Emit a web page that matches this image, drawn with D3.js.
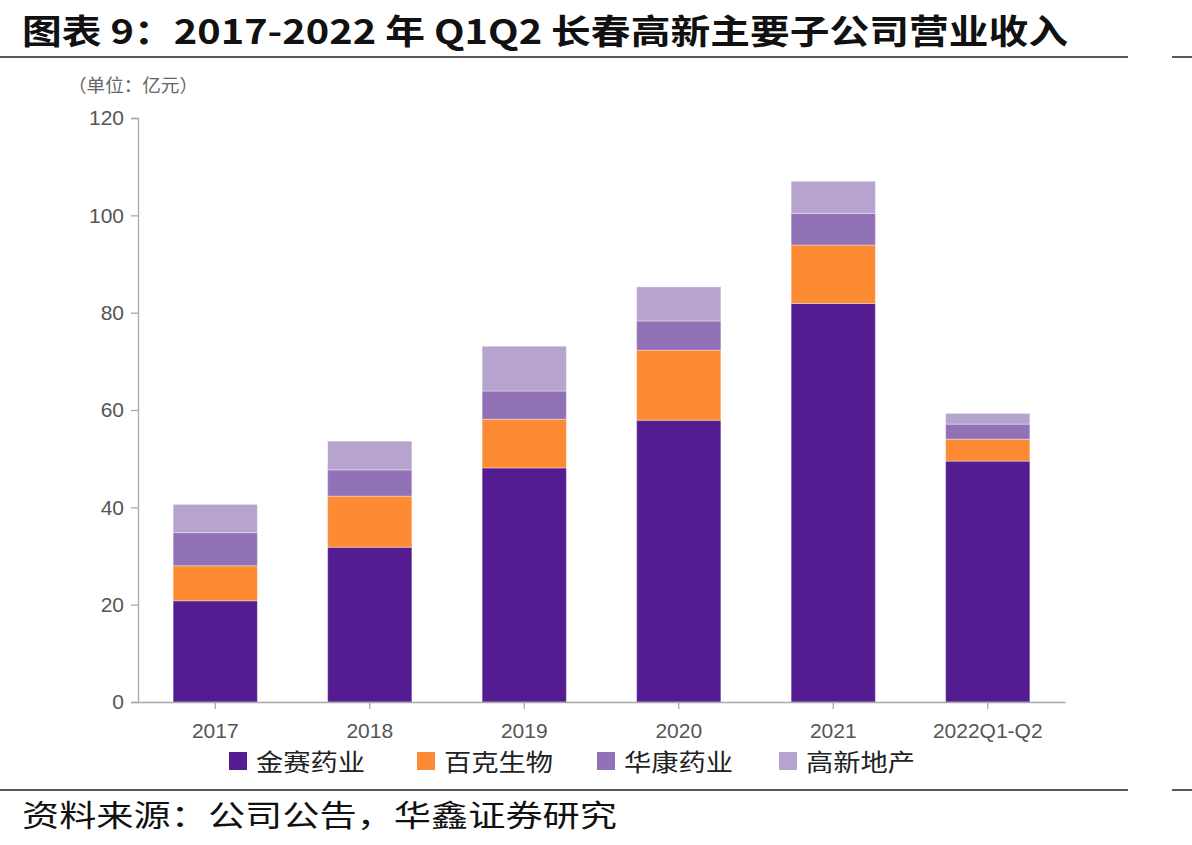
<!DOCTYPE html>
<html>
<head>
<meta charset="utf-8">
<script src="https://cdn.jsdelivr.net/npm/d3@7"></script>
<style>
  body { margin: 0; background: #fff; }
  svg { display: block; }
</style>
</head>
<body>
<svg width="1192" height="845"></svg>
<script>
// categories and series (unit: 亿元)
const years = ['2017', '2018', '2019', '2020', '2021', '2022Q1-Q2'];
const jinsai = [20.8, 31.8, 48.1, 57.9, 81.9, 49.5];   // 金赛药业
const baike = [7.2, 10.5, 10.0, 14.4, 12.0, 4.5];      // 百克生物
const huakang = [6.8, 5.4, 5.8, 6.0, 6.5, 3.1];        // 华康药业
const gaoxin = [5.8, 5.9, 9.2, 7.0, 6.6, 2.2];         // 高新地产
const seriesNames = ['金赛药业', '百克生物', '华康药业', '高新地产'];
const yTicks = [0, 20, 40, 60, 80, 100, 120];

const colors = ['#531c90', '#fd8b34', '#9272b6', '#b6a4cf'];

const svg = d3.select('svg');
const cjk = '"Noto Sans CJK SC", sans-serif';
const latin = '"Liberation Sans", Arial, sans-serif';

// rows for the stack
const rows = years.map((y, i) => ({
    year: y,
    '金赛药业': jinsai[i],
    '百克生物': baike[i],
    '华康药业': huakang[i],
    '高新地产': gaoxin[i]
}));
const stacked = d3.stack().keys(seriesNames)(rows);

const plotLeft = 138, plotRight = 1065, plotTop = 118, plotBottom = 702;

const x = d3.scaleBand()
    .domain(years)
    .range([plotLeft, plotRight])
    .paddingInner(0.455)
    .paddingOuter(0.2275);

const y = d3.scaleLinear()
    .domain([0, 120])
    .range([plotBottom, plotTop]);

// title + rules
svg.append('text')
    .attr('x', 22).attr('y', 44)
    .attr('textLength', 1046).attr('lengthAdjust', 'spacingAndGlyphs')
    .style('font-family', cjk).style('font-weight', 'bold')
    .style('font-size', '34px').attr('fill', '#111')
    .text('图表 9：2017-2022 年 Q1Q2 长春高新主要子公司营业收入');

[57, 790].forEach(yy => {
    svg.append('line').attr('x1', 0).attr('x2', 1128).attr('y1', yy).attr('y2', yy)
        .attr('stroke', '#222').attr('stroke-width', 1.5);
    svg.append('line').attr('x1', 1172).attr('x2', 1192).attr('y1', yy).attr('y2', yy)
        .attr('stroke', '#222').attr('stroke-width', 1.5);
});

svg.append('text')
    .attr('x', 68).attr('y', 92)
    .attr('textLength', 130).attr('lengthAdjust', 'spacingAndGlyphs')
    .style('font-family', cjk).style('font-size', '18px')
    .attr('fill', '#666')
    .text('（单位：亿元）');

// bars
svg.append('g').selectAll('g')
    .data(stacked)
    .join('g')
    .attr('fill', (d, i) => colors[i])
    .selectAll('rect')
    .data(d => d)
    .join('rect')
    .attr('x', d => x(d.data.year))
    .attr('width', x.bandwidth())
    .attr('y', d => y(d[1]))
    .attr('height', d => y(d[0]) - y(d[1]))
    .attr('stroke', '#fff')
    .attr('stroke-opacity', 0.35)
    .attr('stroke-width', 1);

// axes
const yAxis = d3.axisLeft(y).tickValues(yTicks).tickSize(7).tickPadding(7);
const gy = svg.append('g')
    .attr('transform', 'translate(' + plotLeft + ',0)')
    .call(yAxis);

const xAxis = d3.axisBottom(x).tickSize(7).tickSizeOuter(0).tickPadding(14);
const gx = svg.append('g')
    .attr('transform', 'translate(0,' + plotBottom + ')')
    .call(xAxis);

[gx, gy].forEach(g => {
    g.selectAll('path, line').attr('stroke', '#a8a8a8').attr('stroke-width', 1.3);
    g.selectAll('text')
        .style('font-family', latin).style('font-size', '21px')
        .attr('fill', '#555');
});

// legend
const legendX = [229, 417, 597, 779];
const legend = svg.append('g');
seriesNames.forEach((name, i) => {
    const g = legend.append('g').attr('transform', 'translate(' + legendX[i] + ',752)');
    g.append('rect').attr('width', 18).attr('height', 18).attr('fill', colors[i]);
    g.append('text')
        .attr('x', 27).attr('y', 19)
        .attr('textLength', 109).attr('lengthAdjust', 'spacingAndGlyphs')
        .style('font-family', cjk).style('font-size', '24px')
        .attr('fill', '#222')
        .text(name);
});

// source
svg.append('text')
    .attr('x', 22).attr('y', 826)
    .attr('textLength', 595).attr('lengthAdjust', 'spacingAndGlyphs')
    .style('font-family', cjk).style('font-size', '30px')
    .attr('fill', '#111')
    .text('资料来源：公司公告，华鑫证券研究');
</script>
</body>
</html>
